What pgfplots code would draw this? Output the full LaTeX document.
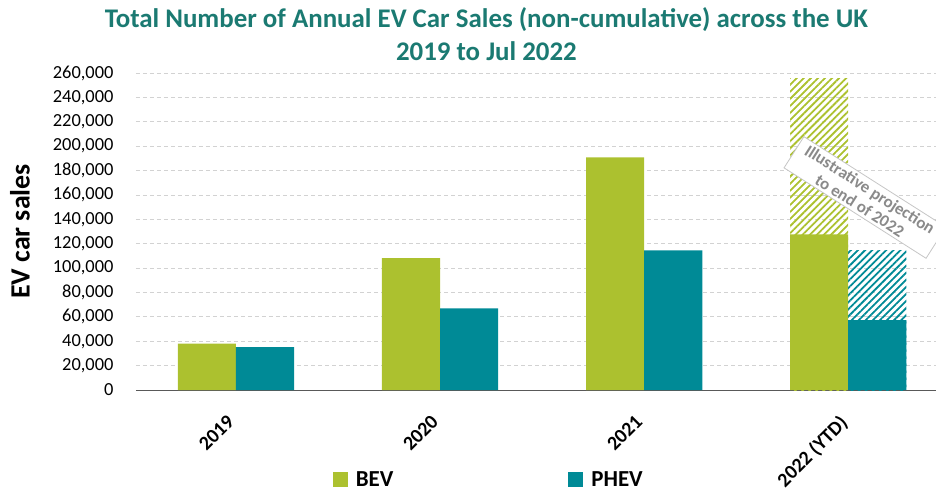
\documentclass[border=0pt]{standalone}
\usepackage{fontspec}
\setmainfont{Carlito}
\usepackage{pgfplots}
\pgfplotsset{compat=1.18}
\usetikzlibrary{patterns.meta}
\definecolor{bev}{HTML}{ACC12F}
\definecolor{phev}{HTML}{008A96}
\definecolor{ttl}{HTML}{1B7A72}
\definecolor{note}{HTML}{8A8A8A}
\begin{document}
\begin{tikzpicture}
\useasboundingbox (-136bp,-103bp) rectangle (800bp,390bp);
\begin{axis}[
  scale only axis, width=800bp, height=317bp,
  xmin=-0.49, xmax=3.43, ymin=0, ymax=260000,
  clip=false,
  axis x line*=bottom, axis y line*=left,
  x axis line style={-, draw=gray!70!black, line width=1pt},
  y axis line style={draw=none},
  ytick={0,20000,...,260000},
  xtick={0,1,2,3},
  xticklabels={2019,2020,2021,2022 (YTD)},
  major tick length=0pt,
  ymajorgrids, major grid style={gray!35, dash pattern=on 4bp off 3bp, line width=0.8pt},
  scaled y ticks=false,
  yticklabel={\pgfmathprintnumber[fixed, precision=0, 1000 sep={,}, assume math mode=true]{\tick}},
  yticklabel style={font=\fontsize{18.5}{22}\selectfont, xshift=-19bp},
  xticklabel style={xshift=-10bp, yshift=-19bp, rotate=45, anchor=north east, font=\fontsize{20}{24}\selectfont\bfseries},
  ylabel={EV car sales},
  ylabel style={font=\fontsize{28}{32}\selectfont\bfseries, at={(rel axis cs:-0.145,0.5)}, anchor=center},
  ybar, bar width=0.285, bar shift=0pt,
  legend columns=2,
  legend style={at={(rel axis cs:0.441,-0.282)}, anchor=center, draw=none, font=\fontsize{23}{27}\selectfont\bfseries,
    /tikz/every odd column/.append style={column sep=6bp},
    /tikz/every even column/.append style={column sep=173bp}},
  legend image code/.code={\fill[#1] (0bp,-7.5bp) rectangle (15bp,7.5bp);},
]
% projections (drawn first, covered by actuals)
\addplot[draw=none, pattern={Lines[angle=45,distance=5bp,line width=1.8bp]}, pattern color=bev, forget plot] coordinates {(2.8575,255700)};
\addplot[draw=none, pattern={Lines[angle=45,distance=5bp,line width=1.8bp]}, pattern color=phev, forget plot] coordinates {(3.1425,114800)};
% actuals
\addplot[draw=none, fill=bev] coordinates {(-0.1425,38000) (0.8575,108205) (1.8575,190727) (2.8575,127700)};
\addplot[draw=none, fill=phev] coordinates {(0.1425,35200) (1.1425,66877) (2.1425,114554) (3.1425,57400)};
\legend{BEV,PHEV}
\node[rotate=-32.5, draw=gray!45, line width=0.8pt, fill=white, text=note, font=\fontsize{17}{19}\selectfont\bfseries, align=center, inner xsep=9bp, inner ysep=3bp] at (axis cs:3.082,157900) {Illustrative projection\\to end of 2022};
\node[text=ttl, font=\fontsize{27}{31}\selectfont\bfseries, anchor=base] at (rel axis cs:0.438,1.145) {Total Number of Annual EV Car Sales (non-cumulative) across the UK};
\node[text=ttl, font=\fontsize{27}{31}\selectfont\bfseries, anchor=base] at (rel axis cs:0.438,1.041) {2019 to Jul 2022};
\end{axis}
\end{tikzpicture}
\end{document}
